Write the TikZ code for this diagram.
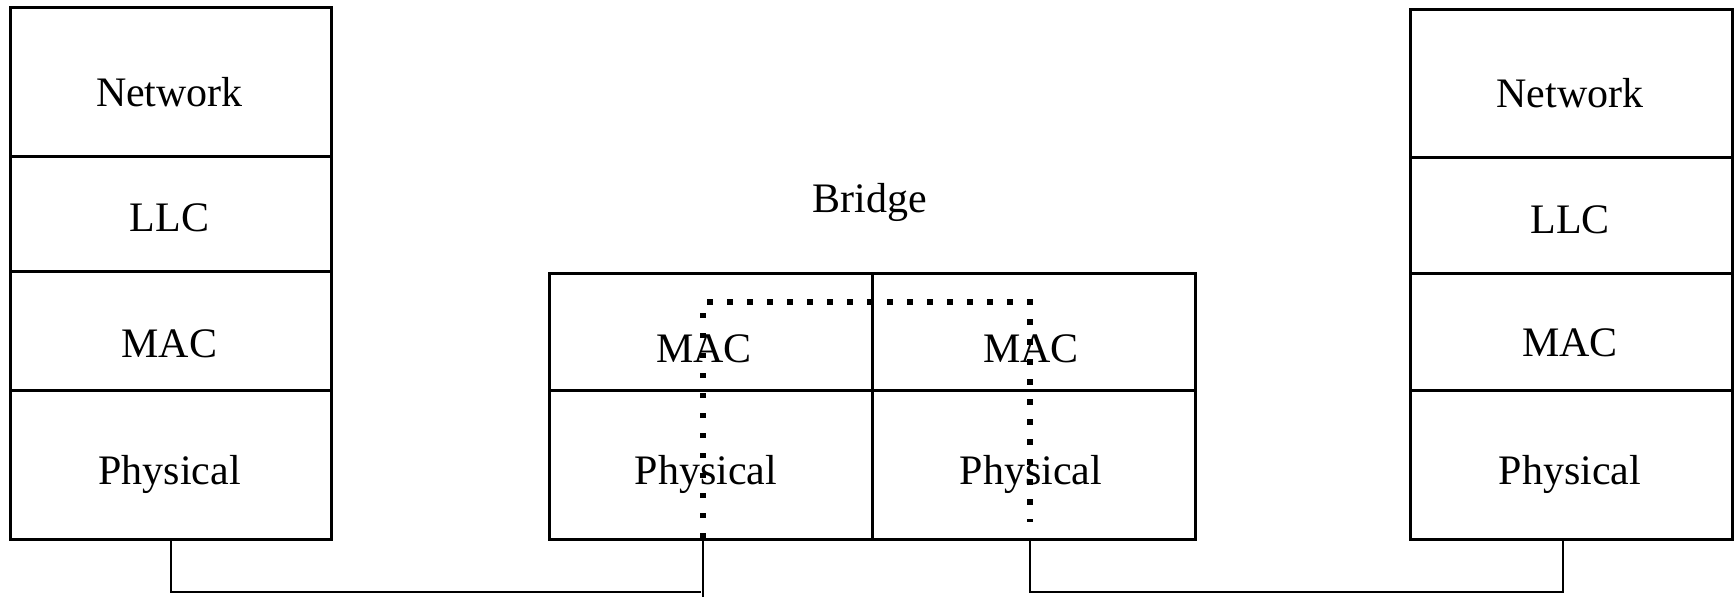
\documentclass[tikz,border=0pt]{standalone}
\usepackage{fontspec}
\setmainfont{Liberation Serif}
\begin{document}
\begin{tikzpicture}[x=1pt,y=-1pt,
  layer/.style={draw=black,line width=3.2pt,rectangle,inner sep=0pt,anchor=north west},
  lbl/.style={anchor=base,inner sep=0pt,font=\fontsize{42}{50}\selectfont},
  conn/.style={draw=black,line width=2.2pt},
  dots/.style={draw=black,line width=5.5pt,dash pattern=on 5.5pt off 14.5pt}]
\useasboundingbox (0,0) rectangle (1736,597);
% left stack
\node[layer,minimum width=321pt,minimum height=149.5pt] (lnet) at (9,5.5) {};
\node[layer,minimum width=321pt,minimum height=115pt] (lllc) at (9,155) {};
\node[layer,minimum width=321pt,minimum height=119pt] (lmac) at (9,270) {};
\node[layer,minimum width=321pt,minimum height=149pt] (lphy) at (9,389) {};
\node[lbl] (tlnet) at (169.5,106) {Network};
\node[lbl] (tlllc) at (169.5,231) {LLC};
\node[lbl] (tlmac) at (169.5,357.5) {MAC};
\node[lbl] (tlphy) at (169.5,484) {Physical};
% bridge
\node[lbl] (tbr) at (870,212.5) {Bridge};
\node[layer,minimum width=323pt,minimum height=117pt] (bmacl) at (548,272) {};
\node[layer,minimum width=322.5pt,minimum height=117pt] (bmacr) at (871,272) {};
\node[layer,minimum width=323pt,minimum height=149pt] (bphyl) at (548,389) {};
\node[layer,minimum width=322.5pt,minimum height=149pt] (bphyr) at (871,389) {};
\node[lbl] (tbmacl) at (704,362) {MAC};
\node[lbl] (tbmacr) at (1031,362) {MAC};
\node[lbl] (tbphyl) at (706,484) {Physical};
\node[lbl] (tbphyr) at (1031,484) {Physical};
% right stack
\node[layer,minimum width=321.5pt,minimum height=148.5pt] (rnet) at (1409,7.5) {};
\node[layer,minimum width=321.5pt,minimum height=116pt] (rllc) at (1409,156) {};
\node[layer,minimum width=321.5pt,minimum height=117pt] (rmac) at (1409,272) {};
\node[layer,minimum width=321.5pt,minimum height=149pt] (rphy) at (1409,389) {};
\node[lbl] (trnet) at (1570,107) {Network};
\node[lbl] (trllc) at (1570,233.5) {LLC};
\node[lbl] (trmac) at (1570,356.5) {MAC};
\node[lbl] (trphy) at (1570,484) {Physical};
% connectors
\coordinate (bl) at (703,538);
\coordinate (br) at (1030,538);
\coordinate (rc) at (1563,538);
\coordinate (j1) at (701,592);
\coordinate (j2) at (1563,592);
\coordinate (bl2) at (703,597);
\draw[conn] (lphy.south) |- (j1);
\draw[conn] (bl) -- (bl2);
\draw[conn] (br) |- (j2) -- (rc);
% dotted path
\coordinate (dtl) at (703,302);
\coordinate (dtr) at (1030,302);
\coordinate (dend) at (1030,522);
\draw[dots] (bl) -- (dtl) -- (dtr) -- (dend);
\end{tikzpicture}
\end{document}
